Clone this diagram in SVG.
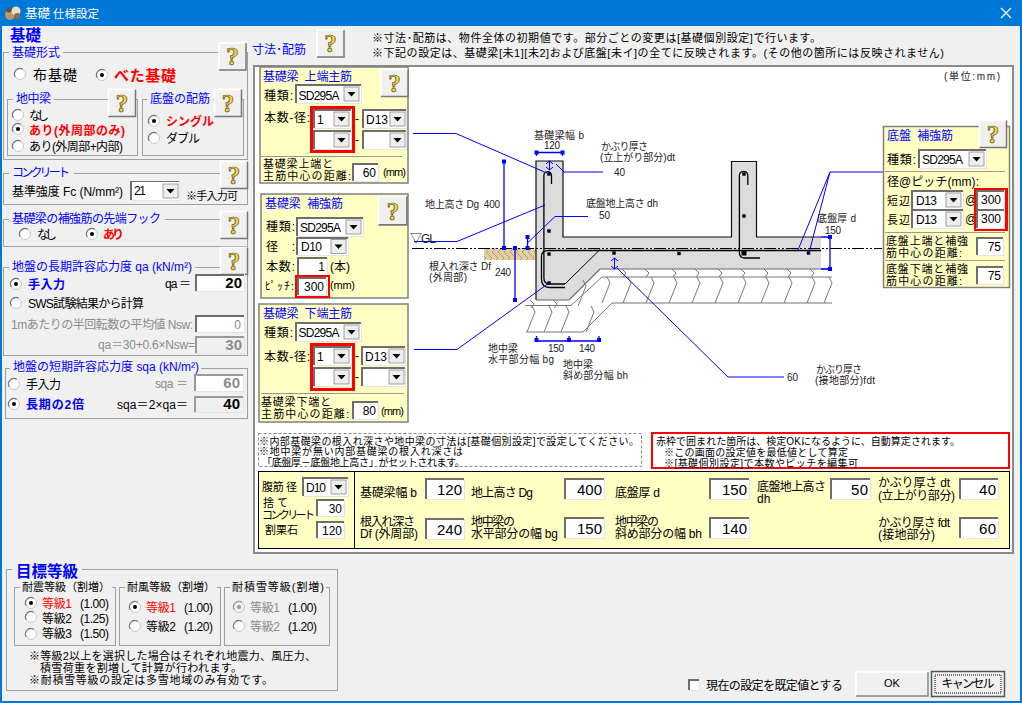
<svg xmlns="http://www.w3.org/2000/svg" xmlns:xlink="http://www.w3.org/1999/xlink" width="1022" height="703" viewBox="0 0 1022 703">
<style>
text{font-family:"Liberation Sans","Noto Sans CJK JP",sans-serif;font-size:12px;fill:#000;white-space:pre}
.bl{fill:#0000ff}.rd{fill:#ff0000}.gy{fill:#8c8c8c}.b{font-weight:700}
.s{font-size:11px}.n{font-size:10px}.h{font-size:11px}.d{font-size:10px;fill:#222}.m{text-anchor:end}.c{text-anchor:middle}
.big{font-size:15px}
.q{font-family:"Liberation Serif",serif;font-size:25px;font-weight:700;fill:#f2d23c;stroke:#5a4a10;stroke-width:.7;text-anchor:middle}
.gb{fill:none;stroke:#a0a0a0;stroke-width:1;shape-rendering:crispEdges}
.lb{fill:#f0f0f0;stroke:none}
.y{fill:#ffffc4;stroke:#808080;stroke-width:1.5}
.f{fill:#fff;stroke:#e4e4e4;stroke-width:1;shape-rendering:crispEdges}
.fg{fill:#f0f0f0;stroke:#e4e4e4;stroke-width:1;shape-rendering:crispEdges}
.tl{fill:none;stroke:#6e6e6e;stroke-width:1.5;shape-rendering:crispEdges}
.red{fill:none;stroke:#ff0000;stroke-width:2.5;shape-rendering:crispEdges}
.sep{stroke:#999;stroke-width:1;shape-rendering:crispEdges}
.ln{fill:none;stroke:#0000ff;stroke-width:1}
.dim{fill:none;stroke:#0000ff;stroke-width:1.3}
.rb{fill:none;stroke:#000;stroke-width:1.3}
.grv{fill:none;stroke:#777;stroke-width:1}
</style>
<defs>
<g id="btn"><rect x="0" y="0" width="27" height="27" fill="#f0f0f0"/><path d="M0,27V0H27" fill="none" stroke="#fff" stroke-width="1.5"/><path d="M0,27H27V0" fill="none" stroke="#777" stroke-width="1.5"/></g>
<g id="ar"><rect width="15" height="14" fill="#eeeeee" stroke="#8a8a8a" stroke-width=".8"/><path d="M3.5,5H11.5L7.5,9.5Z" fill="#000"/></g>
<g id="ro"><circle r="5.5" fill="#fff" stroke="#c8c8c8"/><path d="M-4.8,2.7A5.5,5.5 0 0 1 2.7,-4.8" fill="none" stroke="#777" stroke-width="1.2"/></g>
<g id="rs"><use xlink:href="#ro"/><circle r="2" fill="#000"/></g>
<g id="rg"><circle r="5.5" fill="#f0f0f0" stroke="#c8c8c8"/><path d="M-4.8,2.7A5.5,5.5 0 0 1 2.7,-4.8" fill="none" stroke="#999" stroke-width="1.2"/><circle r="2" fill="#999"/></g>
<path id="zig" class="grv" d="M6,0l3,6l-8,20"/>
<path id="sl" class="grv" d="M0,0l4,4l-3,4"/>
<pattern id="hat" width="12" height="12" patternUnits="userSpaceOnUse"><path d="M0,0L6,6L0,12M6,0L12,6L6,12" fill="none" stroke="#9a8a60" stroke-width=".7"/></pattern>
<rect id="dt" x="-2" y="-2" width="4" height="4" fill="#0000ff"/>
<rect id="rd" x="-1.7" y="-1.7" width="3.4" height="3.4" fill="#000"/>
</defs>

<rect width="1022" height="703" fill="#f0f0f0"/>
<path d="M1,26V702H1021V26" fill="none" stroke="#0078d7" stroke-width="2"/>

<g id="titlebar">
<rect width="1022" height="26" fill="#0078d7"/>
<circle cx="10" cy="15" r="5" fill="#b89a6a"/><circle cx="16" cy="11" r="4.5" fill="#e8e0c8"/><circle cx="9" cy="10" r="2.5" fill="#6a5030"/><circle cx="17" cy="16" r="3" fill="#8a7040"/>
<text x="25" y="18" style="fill:#fff;font-size:12.5px">基礎</text><text x="53" y="18" style="fill:#fff;font-size:11.5px" textLength="46">仕様設定</text>
<path d="M1001,8L1011,18M1011,8L1001,18" stroke="#fff" stroke-width="1.2"/>
</g>

<g id="kiso-title"><text x="10" y="41" class="bl b big" textLength="31" style="font-size:15.5px">基礎</text></g>

<g id="kiso-keishiki">
<rect class="gb" x="3.500" y="52.500" width="244" height="107"/>
<rect class="lb" x="9" y="46" width="54" height="12"/>
<text x="12" y="57" class="bl" textLength="48">基礎形式</text>
<use xlink:href="#btn" transform="translate(219 43)"/><text class="q" x="232.500" y="65">?</text>
<use xlink:href="#ro" x="20" y="74"/><text x="33" y="80" class="big" textLength="44" style="font-size:14px">布基礎</text>
<use xlink:href="#rs" x="102" y="75"/><text x="114" y="81" class="rd b big" textLength="62">べた基礎</text>
</g>
<g id="jichuubari">
<rect class="gb" x="7.500" y="99.500" width="130" height="56"/>
<rect class="lb" x="13" y="93" width="41" height="12"/>
<text x="16" y="103" class="bl" textLength="35">地中梁</text>
<use xlink:href="#btn" transform="translate(108.500 89.500)"/><text class="q" x="122" y="111.500">?</text>
<use xlink:href="#ro" x="18" y="115"/><text x="29" y="120" textLength="20">なし</text>
<use xlink:href="#rs" x="18" y="129"/><text x="29" y="135" class="rd b" textLength="96">あり(外周部のみ)</text>
<use xlink:href="#ro" x="18" y="146"/><text x="29" y="151" textLength="94">あり(外周部+内部)</text>
</g>
<g id="teiban-haikin">
<rect class="gb" x="142.500" y="99.500" width="101" height="56"/>
<rect class="lb" x="147" y="93" width="66" height="12"/>
<text x="150" y="103" class="bl" textLength="60">底盤の配筋</text>
<use xlink:href="#btn" transform="translate(214.500 89.500)"/><text class="q" x="228" y="111.500">?</text>
<use xlink:href="#rs" x="154" y="121"/><text x="166" y="126" class="rd b" textLength="48">シングル</text>
<use xlink:href="#ro" x="154" y="138"/><text x="166" y="143" textLength="34">ダブル</text>
</g>
<g id="concrete">
<rect class="gb" x="3.500" y="173.500" width="244" height="31"/>
<rect class="lb" x="9" y="166" width="65" height="14"/>
<text x="12" y="177" class="bl" textLength="58">コンクリート</text>
<use xlink:href="#btn" transform="translate(220.500 161.500)"/><text class="q" x="234" y="183.500">?</text>
<text x="12" y="196" textLength="111">基準強度 Fc (N/mm²)</text>
<rect class="f" x="131" y="181.500" width="48" height="19"/><path class="tl" d="M131,200V181.500H179"/>
<text x="134" y="195" textLength="12">21</text>
<use xlink:href="#ar" transform="translate(163 184)"/>
<text x="186" y="200" class="s" textLength="52">※手入力可</text>
</g>
<g id="hook">
<rect class="gb" x="3.500" y="219.500" width="244" height="27"/>
<rect class="lb" x="9" y="212" width="156" height="14"/>
<text x="12" y="223" class="bl" textLength="149">基礎梁の補強筋の先端フック</text>
<use xlink:href="#btn" transform="translate(220.500 211.500)"/><text class="q" x="234" y="233.500">?</text>
<use xlink:href="#ro" x="25" y="234"/><text x="37" y="239" textLength="20">なし</text>
<use xlink:href="#rs" x="92" y="234"/><text x="103" y="239" class="rd b" textLength="21">あり</text>
</g>
<g id="chouki">
<rect class="gb" x="3.500" y="267.500" width="244" height="88"/>
<rect class="lb" x="9" y="260" width="186" height="14"/>
<text x="12" y="271" class="bl" textLength="180">地盤の長期許容応力度 qa (kN/m²)</text>
<use xlink:href="#btn" transform="translate(220.500 247.500)"/><text class="q" x="234" y="269.500">?</text>
<use xlink:href="#rs" x="16" y="284"/><text x="28" y="289" class="bl b" textLength="37">手入力</text>
<text x="165" y="288" textLength="26">qa ＝</text>
<rect class="f" x="195.500" y="274.500" width="49" height="17"/><path class="tl" d="M196,291V275H244"/>
<text x="242" y="288" class="m b big">20</text>
<use xlink:href="#ro" x="16" y="303"/><text x="28" y="308" textLength="116">SWS試験結果から計算</text>
<text x="11" y="329" class="gy" textLength="182">1mあたりの半回転数の平均値 Nsw:</text>
<rect class="f" x="195.500" y="315.500" width="49" height="17"/><path class="tl" d="M196,332V316H244"/>
<text x="241" y="329" class="gy m">0</text>
<text x="98" y="349" class="gy" textLength="97">qa＝30+0.6×Nsw=</text>
<rect class="fg" x="195.500" y="336.500" width="49" height="17"/><path class="tl" d="M196,353V337H244" style="stroke:#9a9a9a"/>
<text x="242" y="350" class="gy m b big">30</text>
</g>
<g id="tanki">
<rect class="gb" x="5.500" y="368.500" width="242" height="50"/>
<rect class="lb" x="10" y="361" width="191" height="14"/>
<text x="13" y="371" class="bl" textLength="186">地盤の短期許容応力度 sqa (kN/m²)</text>
<use xlink:href="#ro" x="14" y="384"/><text x="26" y="389" textLength="35">手入力</text>
<text x="155" y="388" class="gy" textLength="33">sqa ＝</text>
<rect class="f" x="194.500" y="374.500" width="49" height="17"/><path class="tl" d="M195,391V375H243" style="stroke:#9a9a9a"/>
<text x="240" y="388" class="gy m b big">60</text>
<use xlink:href="#rs" x="14" y="404"/><text x="26" y="409" class="bl b" textLength="58">長期の2倍</text>
<text x="117" y="409" textLength="71">sqa＝2×qa＝</text>
<rect class="fg" x="194.500" y="396.500" width="49" height="16"/><path class="tl" d="M195,412V397H243" style="stroke:#9a9a9a"/>
<text x="240" y="409" class="m b big">40</text>
</g>

<g id="mokuhyou">
<rect class="gb" x="6.500" y="569.500" width="331" height="121"/>
<rect class="lb" x="12" y="560" width="70" height="18"/>
<text x="16" y="577" class="bl b" textLength="62" style="font-size:15.5px">目標等級</text>
<rect class="gb" x="14.500" y="587.500" width="101" height="58"/>
<rect class="lb" x="20" y="581" width="92" height="12"/>
<text x="22" y="591" textLength="88" class="s">耐震等級（割増）</text>
<use xlink:href="#rs" x="31" y="603"/><text x="42" y="608" class="rd" textLength="30">等級1</text><text x="80" y="608" textLength="29">(1.00)</text>
<use xlink:href="#ro" x="31" y="617"/><text x="42" y="623" textLength="30">等級2</text><text x="80" y="623" textLength="29">(1.25)</text>
<use xlink:href="#ro" x="31" y="634"/><text x="42" y="638" textLength="30">等級3</text><text x="80" y="638" textLength="29">(1.50)</text>
<rect class="gb" x="119.500" y="587.500" width="101" height="58"/>
<rect class="lb" x="125" y="581" width="92" height="12"/>
<text x="127" y="591" textLength="88" class="s">耐風等級（割増）</text>
<use xlink:href="#rs" x="135" y="607"/><text x="146" y="612" class="rd" textLength="30">等級1</text><text x="184" y="612" textLength="29">(1.00)</text>
<use xlink:href="#ro" x="135" y="626"/><text x="146" y="631" textLength="30">等級2</text><text x="184" y="631" textLength="29">(1.20)</text>
<rect class="gb" x="224.500" y="587.500" width="105" height="58"/>
<rect class="lb" x="230" y="581" width="96" height="12"/>
<text x="232" y="591" textLength="92" class="s">耐積雪等級(割増)</text>
<use xlink:href="#rg" x="239" y="607"/><text x="250" y="612" class="gy" textLength="30">等級1</text><text x="288" y="612" textLength="29">(1.00)</text>
<use xlink:href="#ro" x="239" y="626"/><text x="250" y="631" class="gy" textLength="30">等級2</text><text x="288" y="631" textLength="29">(1.20)</text>
<text x="29" y="660" class="s" textLength="287">※等級2以上を選択した場合はそれぞれ地震力、風圧力、</text>
<text x="40" y="672" class="s" textLength="202">積雪荷重を割増して計算が行われます。</text>
<text x="29" y="684" class="s" textLength="244">※耐積雪等級の設定は多雪地域のみ有効です。</text>
</g>

<g id="header">
<text x="252" y="54" class="bl" textLength="54">寸法･配筋</text>
<use xlink:href="#btn" transform="translate(317 30)"/><text class="q" x="330.500" y="52">?</text>
<text x="372" y="42" class="h" textLength="449">※寸法･配筋は、物件全体の初期値です。部分ごとの変更は[基礎個別設定]で行います。</text>
<text x="372" y="57" class="h" textLength="572">※下記の設定は、基礎梁[未1][未2]および底盤[未イ]の全てに反映されます。(その他の箇所には反映されません)</text>
</g>

<rect x="254" y="66" width="759" height="487" fill="#fff" stroke="#8a8a8a" stroke-width="1.500" shape-rendering="crispEdges"/>

<g id="section">
<rect x="484" y="248" width="52" height="12" fill="#e3cda3"/><rect x="484" y="248" width="52" height="12" fill="url(#hat)"/>
<path d="M536,161H563V237H731.500V161.500H756.500V237H821V269H600L569,300H536Z" fill="#dcdcdc"/>
<path d="M536,300V161H563V237H731.500V161.500H756.500V237H821" fill="none" stroke="#111" stroke-width="1.2"/>
<path d="M536,300H569L600,269H832" fill="none" stroke="#666" stroke-width="1.2"/>
<path class="grv" d="M525,305.500H571L602,277H832M526,332H583L612,303H832"/>
<g id="gravel">
<use xlink:href="#zig" x="526" y="306"/><use xlink:href="#zig" x="543" y="306"/><use xlink:href="#zig" x="560" y="306"/>
<use xlink:href="#zig" x="577" y="280"/><use xlink:href="#zig" x="585" y="306"/><use xlink:href="#zig" x="601" y="277"/>
<use xlink:href="#zig" x="622" y="277"/><use xlink:href="#zig" x="645" y="277"/><use xlink:href="#zig" x="668" y="277"/><use xlink:href="#zig" x="691" y="277"/><use xlink:href="#zig" x="714" y="277"/><use xlink:href="#zig" x="737" y="277"/><use xlink:href="#zig" x="760" y="277"/><use xlink:href="#zig" x="783" y="277"/><use xlink:href="#zig" x="806" y="277"/><use xlink:href="#zig" x="823" y="277"/>
<use xlink:href="#sl" x="530" y="300"/><use xlink:href="#sl" x="553" y="300"/><use xlink:href="#sl" x="622" y="269"/><use xlink:href="#sl" x="645" y="269"/><use xlink:href="#sl" x="672" y="269"/><use xlink:href="#sl" x="695" y="269"/><use xlink:href="#sl" x="718" y="269"/><use xlink:href="#sl" x="741" y="269"/><use xlink:href="#sl" x="764" y="269"/><use xlink:href="#sl" x="787" y="269"/><use xlink:href="#sl" x="810" y="269"/>
</g>
<path d="M412,248.500H882" fill="none" stroke="#000" stroke-width="1" stroke-dasharray="12 2 2 2 2 2"/>
<path class="rb" d="M551.500,184V175.500a3.800,3.800 0 0 0 -7.600,0V278q0,6 6,6H565"/>
<path class="rb" d="M821,250.500H548q-6.500,0 -6.500,6.500V279q0,8.500 8,8.500H565"/>
<path d="M565,284L600,249.500" fill="none" stroke="#000" stroke-width="1"/>
<path class="rb" d="M747.800,185V175.500a4.200,4.200 0 0 0 -8.400,0V252q0,6 5,6H760"/>
<use xlink:href="#rd" x="549" y="174"/><use xlink:href="#rd" x="549" y="231"/><use xlink:href="#rd" x="549" y="254"/><use xlink:href="#rd" x="549" y="283"/><use xlink:href="#rd" x="614" y="253"/><use xlink:href="#rd" x="679" y="253.500"/><use xlink:href="#rd" x="808.500" y="253"/><use xlink:href="#rd" x="744" y="174"/><use xlink:href="#rd" x="744" y="216"/>
<rect x="741.500" y="250.500" width="5" height="5" fill="#000"/>
</g>

<g id="connectors">
<path class="ln" d="M413,133.500H456L549,174"/>
<path class="ln" d="M414,241.500H457L545,205"/>
<path class="ln" d="M414,349.500H457L549,283"/>
<path class="dim" d="M536.500,156V152.500H562.500V156"/>
<use xlink:href="#dt" x="536.500" y="152.500"/><use xlink:href="#dt" x="562.500" y="152.500"/>
<path class="dim" d="M504,161.500V248"/><use xlink:href="#dt" x="504" y="161.500"/><use xlink:href="#dt" x="504" y="248"/>
<path class="dim" d="M515,248V300"/><use xlink:href="#dt" x="515" y="248"/><use xlink:href="#dt" x="515" y="300"/>
<path class="dim" d="M527.500,237V248"/><use xlink:href="#dt" x="527.500" y="237"/><use xlink:href="#dt" x="527.500" y="248"/>
<path class="ln" d="M527.500,243L555,216.500H588"/>
<path class="ln" d="M549.500,161V170M546,164L549.500,161L553,164M546,167L549.500,170L553,167"/>
<path class="ln" d="M556,164L564,172H603"/>
<path class="ln" d="M614.500,258V269M611,261L614.500,258L618,261M611,266L614.500,269L618,266"/>
<path class="ln" d="M617,268L728,377H784"/>
<path class="dim" d="M821,237H830V269H821"/><use xlink:href="#dt" x="830" y="237"/><use xlink:href="#dt" x="830" y="269"/>
<path class="ln" d="M883,172H830L798,250M830,172L809,253"/>
<path class="dim" d="M536.500,336V341H599V336M569,336V341"/><use xlink:href="#dt" x="536.500" y="340"/><use xlink:href="#dt" x="569" y="340"/><use xlink:href="#dt" x="599" y="340"/>
</g>

<g id="section-labels">
<text x="534" y="139" class="d" textLength="50">基礎梁幅 b</text>
<text x="552" y="149" class="d c" textLength="16">120</text>
<text x="601" y="150" class="d" textLength="47">かぶり厚さ</text>
<text x="600" y="161" class="d" textLength="75">(立上がり部分)dt</text>
<text x="614" y="176" class="d">40</text>
<text x="425" y="208" class="d" textLength="75">地上高さ Dg  400</text>
<text x="586" y="207" class="d" textLength="72">底盤地上高さ dh</text>
<text x="599" y="219" class="d">50</text>
<text x="410" y="243" class="d" textLength="26" style="font-size:12px">▽GL</text>
<text x="429" y="270" class="d" textLength="62">根入れ深さ Df</text>
<text x="429" y="281" class="d" textLength="38">(外周部)</text>
<text x="495" y="276" class="d" textLength="16">240</text>
<text x="488" y="352" class="d" textLength="30">地中梁</text>
<text x="488" y="363" class="d" textLength="66">水平部分幅 bg</text>
<text x="548" y="352" class="d" textLength="16">150</text>
<text x="579" y="352" class="d" textLength="16">140</text>
<text x="563" y="368" class="d" textLength="30">地中梁</text>
<text x="563" y="379" class="d" textLength="65">斜め部分幅 bh</text>
<text x="787" y="381" class="d">60</text>
<text x="816" y="373" class="d" textLength="46">かぶり厚さ</text>
<text x="815" y="384" class="d" textLength="60">(接地部分)fdt</text>
<text x="817" y="222" class="d" textLength="39">底盤厚 d</text>
<text x="825" y="234" class="d" textLength="16">150</text>
<text x="944" y="80" class="d" textLength="56">(単位:mm)</text>
</g>

<g id="joutan">
<rect class="y" x="260" y="67" width="148" height="116"/>
<text x="263" y="81" class="bl" textLength="89">基礎梁  上端主筋</text>
<use xlink:href="#btn" transform="translate(381 69.500)"/><text class="q" x="394.500" y="91.500">?</text>
<text x="264" y="100" textLength="29">種類:</text>
<rect class="f" x="296" y="85" width="65" height="18"/><path class="tl" d="M296,103V85H361"/><text x="298.500" y="100" textLength="41">SD295A</text><use xlink:href="#ar" transform="translate(344 87)"/>
<text x="264" y="122" textLength="46">本数-径:</text>
<rect class="f" x="314" y="110" width="37" height="18"/><path class="tl" d="M314,128V110H351"/><text x="317" y="124">1</text><use xlink:href="#ar" transform="translate(334 112)"/>
<rect class="f" x="314" y="131" width="37" height="18"/><path class="tl" d="M314,149V131H351"/><use xlink:href="#ar" transform="translate(334 133)"/>
<rect class="red" x="311.500" y="107.500" width="42" height="44"/>
<text x="355" y="123">-</text><text x="355" y="144">-</text>
<rect class="f" x="363" y="110" width="43" height="18"/><path class="tl" d="M363,128V110H406"/><text x="366" y="124" textLength="22">D13</text><use xlink:href="#ar" transform="translate(390 112)"/>
<rect class="f" x="363" y="131" width="43" height="18"/><path class="tl" d="M363,149V131H406"/><use xlink:href="#ar" transform="translate(390 133)"/>
<path class="sep" d="M261,156.500H402"/>
<text x="263" y="168" class="s" textLength="70">基礎梁上端と</text>
<text x="263" y="180" class="s" textLength="88">主筋中心の距離:</text>
<rect class="f" x="353" y="164" width="25" height="17"/><path class="tl" d="M353,181V164H378"/><text x="376" y="177" class="m">60</text>
<text x="383" y="176" class="s" textLength="23">(mm)</text>
</g>
<g id="hokyou">
<rect class="y" x="261" y="194" width="147" height="104"/>
<text x="265" y="208" class="bl" textLength="78">基礎梁  補強筋</text>
<use xlink:href="#btn" transform="translate(378.500 196.500) scale(1.05)"/><text class="q" x="393" y="220">?</text>
<text x="266" y="231" textLength="29">種類:</text>
<rect class="f" x="297" y="218" width="66" height="18"/><path class="tl" d="M297,236V218H363"/><text x="300" y="232" textLength="41">SD295A</text><use xlink:href="#ar" transform="translate(346 220)"/>
<text x="266" y="251" textLength="29">径  :</text>
<rect class="f" x="297" y="237.500" width="51" height="18"/><path class="tl" d="M297,255V238H348"/><text x="301" y="251" textLength="21">D10</text><use xlink:href="#ar" transform="translate(331 239.500)"/>
<text x="266" y="271" textLength="29">本数:</text>
<rect class="f" x="298" y="258" width="29" height="17"/><path class="tl" d="M298,275V258H327"/><text x="325" y="271" class="m">1</text>
<text x="330" y="271" textLength="20">(本)</text>
<text x="265" y="290" class="s" textLength="29">ﾋﾟｯﾁ:</text>
<rect class="f" x="298" y="278" width="28" height="17"/><path class="tl" d="M298,295V278H326"/><text x="324" y="291" class="m">300</text>
<rect class="red" x="296" y="276" width="33" height="21"/>
<text x="330" y="289" class="s" textLength="25">(mm)</text>
</g>
<g id="katan">
<rect class="y" x="259" y="304" width="149" height="118"/>
<text x="263" y="318" class="bl" textLength="89">基礎梁  下端主筋</text>
<text x="264" y="337" textLength="29">種類:</text>
<rect class="f" x="296" y="323" width="65" height="18"/><path class="tl" d="M296,341V323H361"/><text x="298.500" y="337" textLength="41">SD295A</text><use xlink:href="#ar" transform="translate(344 325)"/>
<text x="264" y="361" textLength="46">本数-径:</text>
<rect class="f" x="314" y="347" width="37" height="18"/><path class="tl" d="M314,365V347H351"/><text x="317" y="361">1</text><use xlink:href="#ar" transform="translate(334 349)"/>
<rect class="f" x="314" y="368" width="37" height="18"/><path class="tl" d="M314,386V368H351"/><use xlink:href="#ar" transform="translate(334 370)"/>
<rect class="red" x="311.500" y="344.500" width="42" height="45"/>
<text x="355" y="360">-</text><text x="355" y="381">-</text>
<rect class="f" x="362" y="347" width="43" height="18"/><path class="tl" d="M362,365V347H405"/><text x="365" y="361" textLength="22">D13</text><use xlink:href="#ar" transform="translate(389 349)"/>
<rect class="f" x="362" y="368" width="43" height="18"/><path class="tl" d="M362,386V368H405"/><use xlink:href="#ar" transform="translate(389 370)"/>
<path class="sep" d="M261,393.500H404"/>
<text x="261" y="406" class="s" textLength="70">基礎梁下端と</text>
<text x="261" y="418" class="s" textLength="88">主筋中心の距離:</text>
<rect class="f" x="353" y="402" width="25" height="17"/><path class="tl" d="M353,419V402H378"/><text x="376" y="415" class="m">80</text>
<text x="381" y="415" class="s" textLength="23">(mm)</text>
</g>
<g id="teiban-hokyou">
<rect class="y" x="883.500" y="126.500" width="126" height="161"/>
<text x="887" y="140" class="bl" textLength="66">底盤  補強筋</text>
<use xlink:href="#btn" transform="translate(979.500 120.500)"/><text class="q" x="993" y="142.500">?</text>
<text x="887" y="164" textLength="29">種類:</text>
<rect class="f" x="919" y="150" width="67" height="18"/><path class="tl" d="M919,168V150H986"/><text x="922" y="164" textLength="41">SD295A</text><use xlink:href="#ar" transform="translate(969 152)"/>
<path class="sep" d="M885,171.500H1005"/>
<text x="887" y="186" textLength="92">径@ピッチ(mm):</text>
<text x="887" y="205" class="s" textLength="23">短辺</text>
<rect class="f" x="912" y="191" width="51" height="18"/><path class="tl" d="M912,209V191H963"/><text x="916" y="205" textLength="21">D13</text><use xlink:href="#ar" transform="translate(946 193)"/>
<text x="965" y="204" textLength="10">@</text>
<text x="887" y="224" class="s" textLength="23">長辺</text>
<rect class="f" x="912" y="210" width="51" height="18"/><path class="tl" d="M912,228V210H963"/><text x="916" y="224" textLength="21">D13</text><use xlink:href="#ar" transform="translate(946 212)"/>
<text x="965" y="223" textLength="10">@</text>
<rect class="f" x="977" y="191" width="27" height="18"/><path class="tl" d="M977,209V191H1004"/><text x="1001" y="204" class="m">300</text>
<rect class="f" x="977" y="210" width="27" height="18"/><path class="tl" d="M977,228V210H1004"/><text x="1001" y="223" class="m">300</text>
<rect class="red" x="975" y="189" width="31.500" height="41"/>
<path class="sep" d="M885,232.500H1005"/>
<text x="886" y="245" class="s" textLength="82">底盤上端と補強</text>
<text x="886" y="257" class="s" textLength="76">筋中心の距離:</text>
<rect class="f" x="977" y="238" width="26" height="17"/><path class="tl" d="M977,255V238H1003"/><text x="1001" y="251" class="m">75</text>
<path class="sep" d="M885,260.500H1005"/>
<text x="886" y="273" class="s" textLength="82">底盤下端と補強</text>
<text x="886" y="285" class="s" textLength="76">筋中心の距離:</text>
<rect class="f" x="977" y="267" width="26" height="17"/><path class="tl" d="M977,284V267H1003"/><text x="1001" y="280" class="m">75</text>
</g>

<g id="notes">
<rect x="258.500" y="433.500" width="383" height="33" fill="none" stroke="#888" stroke-dasharray="3 2"/>
<text x="259" y="445" class="n" textLength="380">※内部基礎梁の根入れ深さや地中梁の寸法は[基礎個別設定]で設定してください。</text>
<text x="259" y="455" class="n" textLength="204">※地中梁が無い内部基礎梁の根入れ深さは</text>
<text x="262" y="466" class="n" textLength="203">「底盤厚－底盤地上高さ」がセットされます。</text>
<rect class="red" x="652" y="433" width="357" height="35" style="fill:#fff"/>
<text x="656" y="445" class="n" textLength="304">赤枠で囲まれた箇所は、検定OKになるように、自動算定されます。</text>
<text x="664" y="456" class="n" textLength="184">※この画面の設定値を最低値として算定</text>
<text x="664" y="467" class="n" textLength="194">※[基礎個別設定]で本数やピッチを編集可</text>
</g>

<g id="dimension-panel">
<rect x="258.500" y="471.500" width="751" height="77" fill="#ffffc4" stroke="#000" stroke-width="1" shape-rendering="crispEdges"/>
<path d="M354,472V548" stroke="#000" stroke-width="1" shape-rendering="crispEdges"/>
<text x="262" y="491" class="s" textLength="35">腹筋 径</text>
<rect class="f" x="303" y="478" width="45" height="18"/><path class="tl" d="M303,496V478H348"/><text x="306" y="492" textLength="20">D10</text><use xlink:href="#ar" transform="translate(331 480)"/>
<text x="263" y="507" class="s" textLength="25">捨て</text>
<text x="262" y="519" class="s" textLength="53">コンクリート</text>
<text x="265" y="534" class="s" textLength="33">割栗石</text>
<rect class="f" x="317" y="500" width="27" height="16"/><path class="tl" d="M317,516V500H344"/><text x="342" y="513" class="m">30</text>
<rect class="f" x="317" y="522" width="27" height="16"/><path class="tl" d="M317,538V522H344"/><text x="342" y="535" class="m">120</text>

<text x="360" y="497" textLength="57">基礎梁幅 b</text>
<rect class="f" x="426" y="479" width="38" height="20"/><path class="tl" d="M426,499V479H464"/><text x="462" y="495" class="m big" textLength="25">120</text>
<text x="360" y="526" textLength="55">根入れ深さ</text>
<text x="360" y="538" textLength="58">Df (外周部)</text>
<rect class="f" x="426" y="519" width="38" height="20"/><path class="tl" d="M426,539V519H464"/><text x="462" y="535" class="m big" textLength="25">240</text>

<text x="471" y="497" textLength="62">地上高さ Dg</text>
<rect class="f" x="565" y="479" width="39" height="20"/><path class="tl" d="M565,499V479H604"/><text x="602" y="495" class="m big" textLength="25">400</text>
<text x="471" y="526" textLength="44">地中梁の</text>
<text x="471" y="538" textLength="87">水平部分の幅 bg</text>
<rect class="f" x="565" y="518" width="39" height="20"/><path class="tl" d="M565,538V518H604"/><text x="602" y="534" class="m big" textLength="25">150</text>

<text x="615" y="497" textLength="45">底盤厚 d</text>
<rect class="f" x="710" y="479" width="39" height="20"/><path class="tl" d="M710,499V479H749"/><text x="747" y="495" class="m big" textLength="25">150</text>
<text x="615" y="526" textLength="44">地中梁の</text>
<text x="615" y="538" textLength="87">斜め部分の幅 bh</text>
<rect class="f" x="710" y="518" width="39" height="20"/><path class="tl" d="M710,538V518H749"/><text x="747" y="534" class="m big" textLength="25">140</text>

<text x="757" y="491" textLength="69">底盤地上高さ</text>
<text x="757" y="503">dh</text>
<rect class="f" x="831" y="479" width="39" height="20"/><path class="tl" d="M831,499V479H870"/><text x="868" y="495" class="m big" textLength="17">50</text>

<text x="878" y="487" textLength="72">かぶり厚さ dt</text>
<text x="878" y="500" textLength="77">(立上がり部分)</text>
<rect class="f" x="960" y="479" width="38" height="20"/><path class="tl" d="M960,499V479H998"/><text x="996" y="495" class="m big" textLength="17">40</text>
<text x="878" y="527" textLength="72">かぶり厚さ fdt</text>
<text x="878" y="539" textLength="57">(接地部分)</text>
<rect class="f" x="960" y="518" width="38" height="20"/><path class="tl" d="M960,538V518H998"/><text x="996" y="534" class="m big" textLength="17">60</text>
</g>

<g id="footer">
<rect class="f" x="689" y="680" width="10" height="10"/><path class="tl" d="M689,690V680H699"/>
<text x="706" y="690" textLength="137">現在の設定を既定値とする</text>
<rect x="856" y="672" width="72" height="24" fill="#f0f0f0"/><path d="M856,696V672H928" fill="none" stroke="#fff" stroke-width="1.500"/><path d="M856,696H928V672" fill="none" stroke="#888" stroke-width="1.500"/>
<text x="892" y="687" class="c s">OK</text>
<rect x="931.500" y="671.500" width="73" height="25" fill="#f0f0f0" stroke="#555" stroke-width="1.500"/>
<rect x="935" y="675" width="66" height="18" fill="none" stroke="#000" stroke-dasharray="1 1"/>
<text x="968" y="688" class="c" textLength="53">キャンセル</text>
</g>
</svg>
